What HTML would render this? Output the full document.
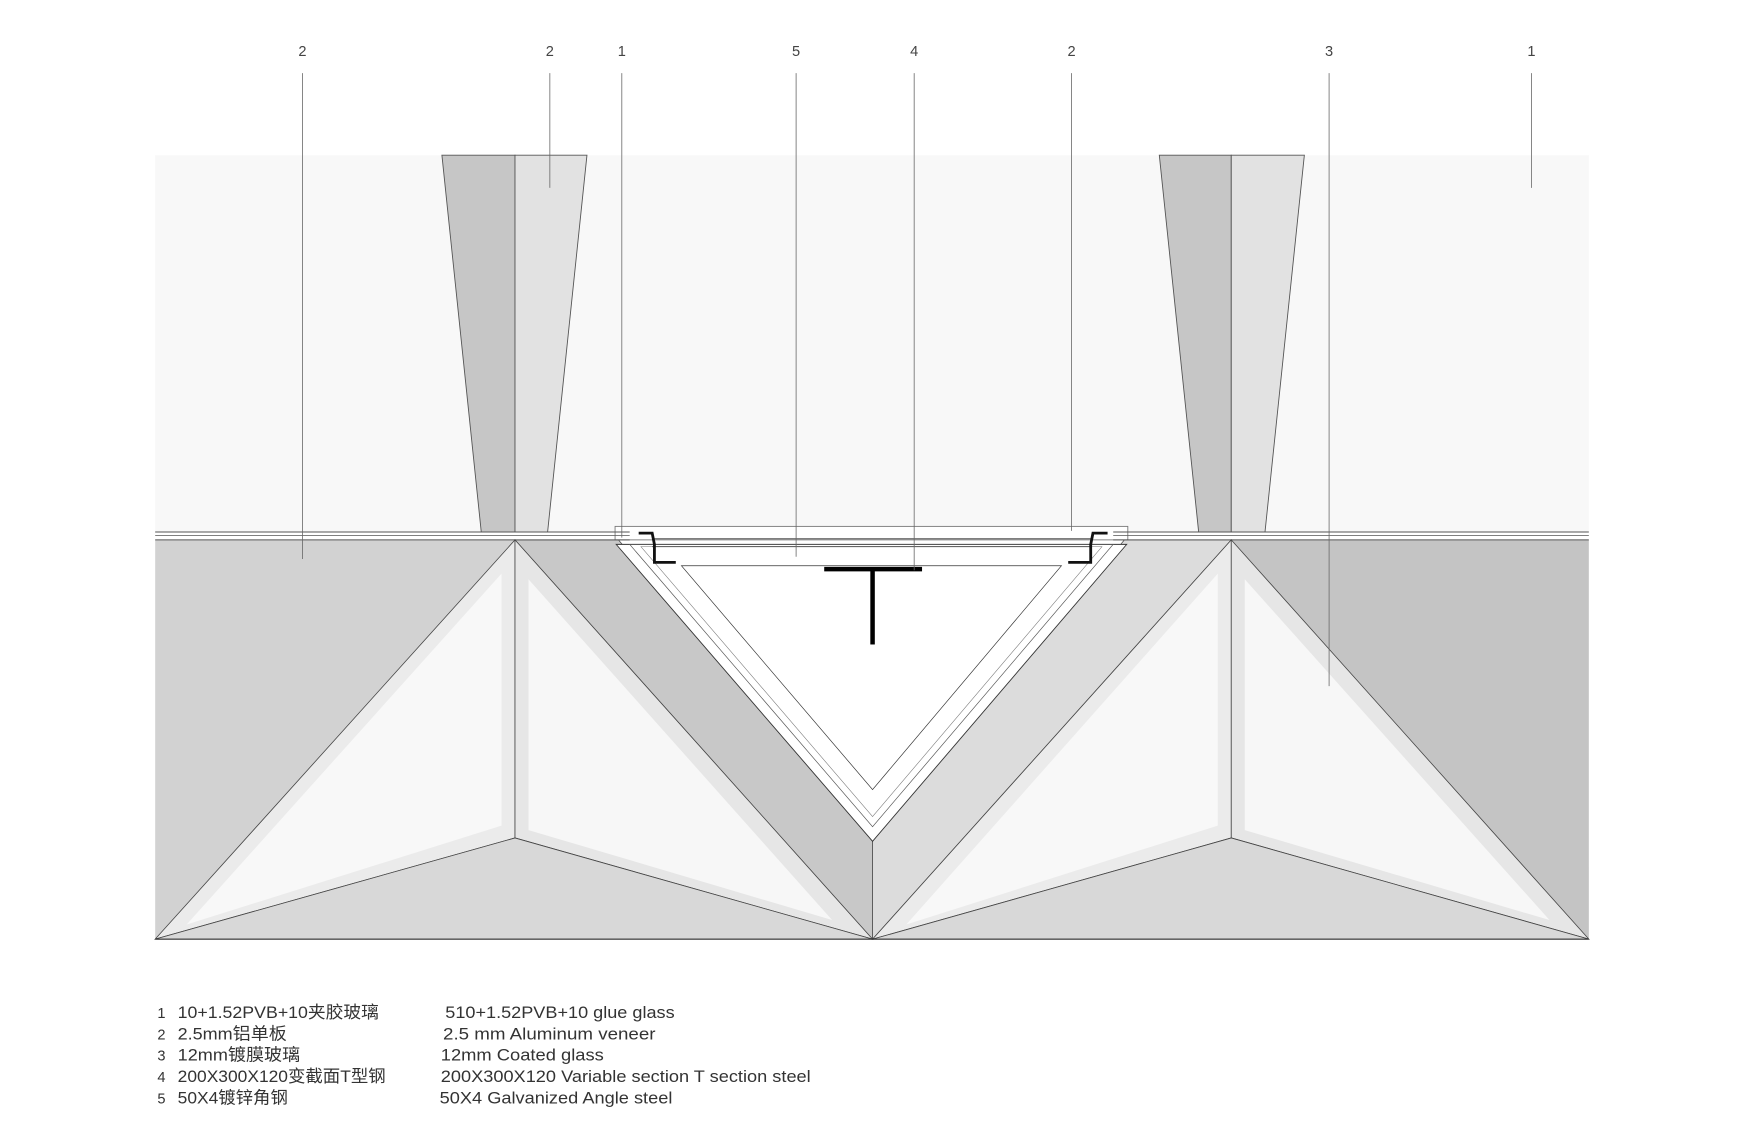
<!DOCTYPE html>
<html><head><meta charset="utf-8"><style>html,body{margin:0;padding:0;background:#fff}svg{display:block}</style></head>
<body>
<svg width="1762" height="1136" viewBox="0 0 1567 1010" preserveAspectRatio="none" xmlns="http://www.w3.org/2000/svg">
<rect width="1567" height="1010" fill="#fff"/>
<rect x="138" y="138" width="1275" height="335" fill="#f8f8f8"/>
<polygon points="393,138 458,138 458,473 428,473" fill="#c6c6c6" stroke="#555" stroke-width="0.8"/>
<polygon points="458,138 522,138 487,473 458,473" fill="#e2e2e2" stroke="#555" stroke-width="0.8"/>
<polygon points="1031,138 1095,138 1095,473 1066,473" fill="#c6c6c6" stroke="#555" stroke-width="0.8"/>
<polygon points="1095,138 1160,138 1125,473 1095,473" fill="#e2e2e2" stroke="#555" stroke-width="0.8"/>
<polygon points="138,480 458,480 138,835" fill="#d2d2d2"/>
<polygon points="1095,480 1413,480 1413,835" fill="#c4c4c4"/>
<polygon points="458,480 550,480 776,748 776,835" fill="#c8c8c8" stroke="#444" stroke-width="0.6"/>
<polygon points="1000,480 1095,480 776,835 776,748" fill="#dcdcdc" stroke="#444" stroke-width="0.6"/>
<polygon points="458,480 138,835 458,745" fill="#ebebeb" stroke="#444" stroke-width="0.7"/>
<polygon points="446,510 166,822 446,734" fill="#f8f8f8"/>
<polygon points="458,480 458,745 776,835" fill="#e6e6e6" stroke="#444" stroke-width="0.7"/>
<polygon points="470,515 470,738 740,818" fill="#f7f7f7"/>
<polygon points="138,835 458,745 776,835" fill="#d8d8d8" stroke="#444" stroke-width="0.7"/>
<polygon points="1095,480 776,835 1095,745" fill="#ebebeb" stroke="#444" stroke-width="0.7"/>
<polygon points="1083,510 806,822 1083,734" fill="#f8f8f8"/>
<polygon points="1095,480 1095,745 1413,835" fill="#e6e6e6" stroke="#444" stroke-width="0.7"/>
<polygon points="1107,515 1107,738 1378,818" fill="#f7f7f7"/>
<polygon points="776,835 1095,745 1413,835" fill="#d8d8d8" stroke="#444" stroke-width="0.7"/>
<line x1="138" y1="835" x2="1413" y2="835" stroke="#333" stroke-width="1"/>
<polygon points="548,484 1002,484 776,748" fill="#fff" stroke="#333" stroke-width="0.8"/>
<polygon points="560,484 990,484 776,735" fill="none" stroke="#555" stroke-width="0.6"/>
<polygon points="570,486 980,486 776,726" fill="none" stroke="#777" stroke-width="0.5"/>
<polygon points="606,503 944,503 776,702" fill="none" stroke="#333" stroke-width="0.6"/>
<rect x="547" y="468" width="456" height="12" fill="#fff" stroke="#777" stroke-width="0.8"/>
<line x1="580" y1="479" x2="970" y2="479" stroke="#555" stroke-width="0.8"/>
<line x1="580" y1="486" x2="970" y2="486" stroke="#555" stroke-width="0.8"/>
<line x1="138" y1="473" x2="560" y2="473" stroke="#555" stroke-width="0.8"/>
<line x1="138" y1="476" x2="560" y2="476" stroke="#555" stroke-width="0.6"/>
<line x1="138" y1="480" x2="560" y2="480" stroke="#555" stroke-width="0.8"/>
<line x1="990" y1="473" x2="1413" y2="473" stroke="#555" stroke-width="0.8"/>
<line x1="990" y1="476" x2="1413" y2="476" stroke="#555" stroke-width="0.6"/>
<line x1="990" y1="480" x2="1413" y2="480" stroke="#555" stroke-width="0.8"/>
<polyline points="568,474 580,474 582,484 582,500 601,500" fill="none" stroke="#111" stroke-width="2.5"/>
<polyline points="985,474 972,474 970,484 970,500 950,500" fill="none" stroke="#111" stroke-width="2.5"/>
<rect x="733" y="504" width="87" height="4" fill="#000"/>
<rect x="774" y="506" width="4" height="67" fill="#000"/>
<g stroke="#666" stroke-width="0.7">
<line x1="269" y1="65" x2="269" y2="497"/>
<line x1="489" y1="65" x2="489" y2="167"/>
<line x1="553" y1="65" x2="553" y2="478"/>
<line x1="708" y1="65" x2="708" y2="495"/>
<line x1="813" y1="65" x2="813" y2="507"/>
<line x1="953" y1="65" x2="953" y2="472"/>
<line x1="1182" y1="65" x2="1182" y2="610"/>
<line x1="1362" y1="65" x2="1362" y2="167"/>
</g>
<g font-family="Liberation Sans, sans-serif" font-size="13" fill="#444" text-anchor="middle">
<text x="269" y="50">2</text><text x="489" y="50">2</text><text x="553" y="50">1</text><text x="708" y="50">5</text>
<text x="813" y="50">4</text><text x="953" y="50">2</text><text x="1182" y="50">3</text><text x="1362" y="50">1</text>
</g>
<g font-family="Liberation Sans, 'Noto Sans CJK SC', sans-serif" font-size="15" fill="#333">
<text x="140" y="905" font-size="13">1</text><text x="158" y="905" textLength="179" lengthAdjust="spacingAndGlyphs">10+1.52PVB+10夹胶玻璃</text><text x="396" y="905" textLength="204" lengthAdjust="spacingAndGlyphs">510+1.52PVB+10 glue glass</text>
<text x="140" y="924" font-size="13">2</text><text x="158" y="924" textLength="97" lengthAdjust="spacingAndGlyphs">2.5mm铝单板</text><text x="394" y="924" textLength="189" lengthAdjust="spacingAndGlyphs">2.5 mm Aluminum veneer</text>
<text x="140" y="943" font-size="13">3</text><text x="158" y="943" textLength="109" lengthAdjust="spacingAndGlyphs">12mm镀膜玻璃</text><text x="392" y="943" textLength="145" lengthAdjust="spacingAndGlyphs">12mm Coated glass</text>
<text x="140" y="962" font-size="13">4</text><text x="158" y="962" textLength="185" lengthAdjust="spacingAndGlyphs">200X300X120变截面T型钢</text><text x="392" y="962" textLength="329" lengthAdjust="spacingAndGlyphs">200X300X120 Variable section T section steel</text>
<text x="140" y="981" font-size="13">5</text><text x="158" y="981" textLength="98" lengthAdjust="spacingAndGlyphs">50X4镀锌角钢</text><text x="391" y="981" textLength="207" lengthAdjust="spacingAndGlyphs">50X4 Galvanized Angle steel</text>
</g>
</svg>
</body></html>
